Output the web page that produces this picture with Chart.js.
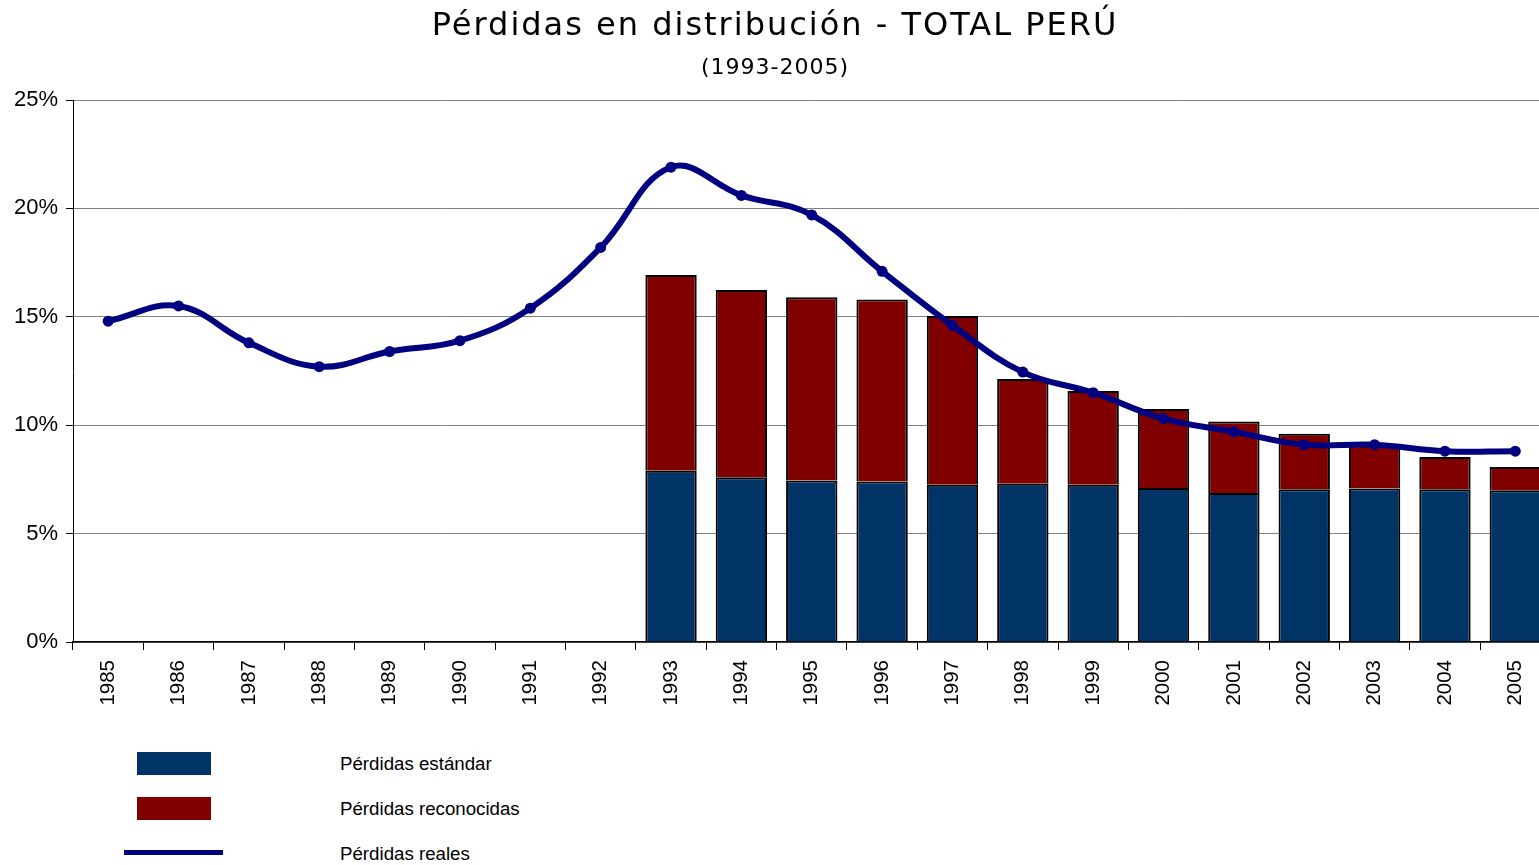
<!DOCTYPE html>
<html>
<head>
<meta charset="utf-8">
<script src="https://cdn.jsdelivr.net/npm/chart.js@4"></script>
<style>
  body { margin: 0; background: #fff; width: 1539px; height: 865px; overflow: hidden; position: relative; }
  #wrap { position: absolute; left: 0; top: 0; width: 1556px; height: 710px; }
  .title { position: absolute; left: 0; width: 1550px; text-align: center; font-family: "DejaVu Sans", sans-serif; color: #000; white-space: nowrap; }
  .legend { position: absolute; font-family: "Liberation Sans", Arial, sans-serif; font-size: 18.7px; color: #000; }
  .sw { position: absolute; }
</style>
</head>
<body>
<div id="wrap"><canvas id="chart"></canvas></div>

<div class="title" style="top:5px; font-size:32px; letter-spacing:2px;">Pérdidas en distribución - TOTAL PERÚ</div>
<div class="title" style="top:54px; font-size:22px; letter-spacing:1px;">(1993-2005)</div>

<div class="sw" style="left:137px; top:752px; width:74px; height:23px; background:#003366;"></div>
<div class="sw" style="left:137px; top:797px; width:74px; height:23px; background:#800000;"></div>
<div class="sw" style="left:124px; top:850px; width:99px; height:5px; background:#000080;"></div>
<div class="legend" style="left:340px; top:753px;">Pérdidas estándar</div>
<div class="legend" style="left:340px; top:798px;">Pérdidas reconocidas</div>
<div class="legend" style="left:340px; top:843px;">Pérdidas reales</div>

<script>
const years = ['1985', '1986', '1987', '1988', '1989', '1990', '1991', '1992', '1993', '1994', '1995',
    '1996', '1997', '1998', '1999', '2000', '2001', '2002', '2003', '2004', '2005'];

// % values
const standard = [null, null, null, null, null, null, null, null,
    7.9, 7.6, 7.45, 7.4, 7.25, 7.3, 7.25, 7.1, 6.87, 7.05, 7.08, 7.05, 7.0];
const recognized = [null, null, null, null, null, null, null, null,
    9.03, 8.64, 8.45, 8.4, 7.79, 4.83, 4.33, 3.65, 3.3, 2.55, 2.05, 1.48, 1.07];
const real = [14.8, 15.5, 13.8, 12.7, 13.4, 13.9, 15.4, 18.2,
    21.9, 20.6, 19.7, 17.1, 14.6, 12.45, 11.5, 10.3, 9.7, 9.1, 9.1, 8.8, 8.8];

const yTicks = [0, 5, 10, 15, 20, 25];

new Chart(document.getElementById('chart'), {
    type: 'bar',
    data: {
        labels: years,
        datasets: [
            {
                type: 'line',
                label: 'Pérdidas reales',
                data: real,
                stack: 'line',
                borderColor: '#000080',
                backgroundColor: '#000080',
                borderWidth: 6,
                pointRadius: 5.5,
                pointBackgroundColor: '#000080',
                pointBorderWidth: 0,
                tension: 0.4,
                order: 0
            },
            {
                label: 'Pérdidas estándar',
                data: standard,
                stack: 'bars',
                backgroundColor: '#003366',
                borderColor: '#000',
                borderWidth: 2,
                barPercentage: 0.73,
                categoryPercentage: 1,
                order: 1
            },
            {
                label: 'Pérdidas reconocidas',
                data: recognized,
                stack: 'bars',
                backgroundColor: '#800000',
                borderColor: '#000',
                borderWidth: 2,
                barPercentage: 0.73,
                categoryPercentage: 1,
                order: 1
            }
        ]
    },
    options: {
        responsive: true,
        maintainAspectRatio: false,
        animation: false,
        layout: { padding: { left: 0, right: 0, top: 100, bottom: 0 } },
        plugins: {
            legend: { display: false },
            tooltip: { enabled: false }
        },
        scales: {
            x: {
                stacked: true,
                grid: { drawOnChartArea: false, drawTicks: true, tickLength: 8, color: '#000', offset: true },
                border: { color: '#000', width: 1.5 },
                ticks: {
                    color: '#000',
                    maxRotation: 90,
                    minRotation: 90,
                    padding: 10,
                    font: { family: 'Liberation Sans', size: 20.5 }
                },
                afterFit(s) { s.height = 68; }
            },
            y: {
                stacked: true,
                min: 0,
                max: 25,
                afterBuildTicks(s) { s.ticks = yTicks.map(v => ({ value: v })); },
                grid: { color: '#808080', tickColor: '#000', tickLength: 7, lineWidth: 1 },
                border: { color: '#000', width: 1 },
                ticks: {
                    color: '#000',
                    padding: 8,
                    font: { family: 'Liberation Sans', size: 22 },
                    callback: v => v + '%'
                },
                afterFit(s) { s.width = 73; }
            }
        }
    }
});
</script>
</body>
</html>
